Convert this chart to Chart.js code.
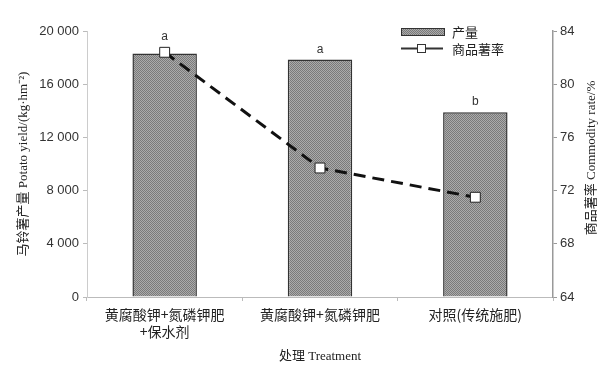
<!DOCTYPE html>
<html>
<head>
<meta charset="utf-8">
<script src="https://cdn.jsdelivr.net/npm/chart.js@4"></script>
<style>
    html, body { margin: 0; padding: 0; background: #fff; }
    #wrap { width: 608px; height: 368px; position: relative; }
</style>
</head>
<body>
<div id="wrap"><canvas id="yieldChart"></canvas></div>
<script>
// Potato yield (bars) and commodity rate (line)

const categories = [['黄腐酸钾+氮磷钾肥', '+保水剂'], '黄腐酸钾+氮磷钾肥', '对照(传统施肥)'];
const yieldValues = [18300, 17850, 13900];
const rateValues = [82.4, 73.7, 71.5];
const sigLetters = ['a', 'a', 'b'];
const yieldTicks = [0, 4000, 8000, 12000, 16000, 20000];
const rateTicks = [64, 68, 72, 76, 80, 84];

const CJK = '"Noto Sans CJK SC", "Noto Sans", sans-serif';
const MIX = '"Liberation Serif", "Noto Sans CJK SC", serif';
const NUM = '"Liberation Sans", "DejaVu Sans", sans-serif';

// dotted grey fill like the printed figure
function makePattern() {
    const c = document.createElement('canvas');
    c.width = 2;
    c.height = 2;
    const g = c.getContext('2d');
    g.fillStyle = '#ababab';
    g.fillRect(0, 0, 2, 2);
    g.fillStyle = '#7a7a7a';
    g.fillRect(0, 0, 1, 1);
    g.fillRect(1, 1, 1, 1);
    return g.createPattern(c, 'repeat');
}
const barFill = makePattern();

function fmtThousands(v) {
    return String(v).replace(/\B(?=(\d{3})+(?!\d))/g, ' ');
}

// letters above bars, right title, hand drawn legend
const extrasPlugin = {
    id: 'extras',
    afterDatasetsDraw(chart) {
        const ctx = chart.ctx;
        const bars = chart.getDatasetMeta(0).data;
        const pts = chart.getDatasetMeta(1).data;
        ctx.save();
        ctx.fillStyle = '#333';
        ctx.font = '12px ' + NUM;
        ctx.textAlign = 'center';
        ctx.textBaseline = 'middle';
        bars.forEach((bar, i) => {
            let top = bar.y;
            const p = pts[i];
            if (p && Math.abs(p.y - bar.y) < 15) top = Math.min(top, p.y - 6);
            ctx.fillText(sigLetters[i], bar.x, top - 10);
        });

        // right axis title, reads bottom to top like the left one
        const area = chart.chartArea;
        ctx.save();
        ctx.translate(592, (area.top + area.bottom) / 2 - 6);
        ctx.rotate(-Math.PI / 2);
        ctx.fillStyle = '#222';
        ctx.font = '13px ' + MIX;
        ctx.fillText('商品薯率 Commodity rate/%', 0, 0);
        ctx.restore();

        // legend
        const lx = 401, ly = 28;
        ctx.fillStyle = barFill;
        ctx.fillRect(lx, ly, 44, 8);
        ctx.strokeStyle = '#333';
        ctx.lineWidth = 1;
        ctx.strokeRect(lx + 0.5, ly + 0.5, 43, 7);
        ctx.beginPath();
        ctx.lineWidth = 2;
        ctx.moveTo(lx, 48.5);
        ctx.lineTo(lx + 42, 48.5);
        ctx.stroke();
        ctx.fillStyle = '#fff';
        ctx.fillRect(lx + 16, 44, 9, 9);
        ctx.lineWidth = 1;
        ctx.strokeRect(lx + 16.5, 44.5, 8, 8);
        ctx.fillStyle = '#222';
        ctx.font = '13px ' + CJK;
        ctx.textAlign = 'left';
        ctx.fillText('产量', 452, 32);
        ctx.fillText('商品薯率', 452, 49);
        ctx.restore();
    }
};

const ctx = document.getElementById('yieldChart').getContext('2d');
new Chart(ctx, {
    data: {
        labels: categories,
        datasets: [{
            type: 'bar',
            label: '产量',
            data: yieldValues,
            yAxisID: 'y',
            backgroundColor: barFill,
            borderColor: '#333',
            borderWidth: 1.5,
            borderSkipped: 'bottom',
            barPercentage: 0.83,
            categoryPercentage: 0.5,
            order: 1
        }, {
            type: 'line',
            label: '商品薯率',
            data: rateValues,
            yAxisID: 'y1',
            borderColor: '#111',
            borderWidth: 3,
            borderDash: [12, 7],
            fill: false,
            tension: 0,
            pointStyle: 'rect',
            pointRadius: 7,
            pointBackgroundColor: '#fff',
            pointBorderColor: '#222',
            pointBorderWidth: 1,
            order: 0
        }]
    },
    options: {
        responsive: true,
        maintainAspectRatio: false,
        animation: false,
        layout: {
            padding: { top: 31, left: 0, right: 0, bottom: 0 }
        },
        plugins: {
            legend: { display: false },
            tooltip: { enabled: false }
        },
        scales: {
            x: {
                offset: true,
                grid: {
                    offset: true,
                    drawOnChartArea: false,
                    color: '#bbb',
                    tickLength: 4
                },
                border: { color: '#bbb', width: 1 },
                ticks: {
                    color: '#222',
                    font: { family: CJK, size: 14 },
                    maxRotation: 0,
                    padding: 5
                },
                title: {
                    display: true,
                    text: '处理 Treatment',
                    color: '#222',
                    font: { family: MIX, size: 13 },
                    padding: { top: 0 }
                },
                afterFit(scale) { scale.height = 71; }
            },
            y: {
                position: 'left',
                min: 0,
                max: 20000,
                afterBuildTicks(scale) { scale.ticks = yieldTicks.map(v => ({ value: v })); },
                grid: { drawOnChartArea: false, color: '#bbb', tickLength: 4 },
                border: { color: '#ccc', width: 1 },
                ticks: {
                    color: '#333',
                    font: { family: NUM, size: 13 },
                    padding: 4,
                    callback: v => fmtThousands(v)
                },
                title: {
                    display: true,
                    text: '马铃薯产量 Potato yield/(kg·hm⁻²)',
                    color: '#222',
                    font: { family: MIX, size: 13 },
                    padding: { top: 16, bottom: 4 }
                },
                afterFit(scale) { scale.width = 87; }
            },
            y1: {
                position: 'right',
                min: 64,
                max: 84,
                afterBuildTicks(scale) { scale.ticks = rateTicks.map(v => ({ value: v })); },
                grid: { drawOnChartArea: false, color: '#999', tickLength: 4 },
                border: { color: '#999', width: 1.5 },
                ticks: {
                    color: '#333',
                    font: { family: NUM, size: 13 },
                    padding: 3
                },
                afterFit(scale) { scale.width = 55; }
            }
        }
    },
    plugins: [extrasPlugin]
});
</script>
</body>
</html>
